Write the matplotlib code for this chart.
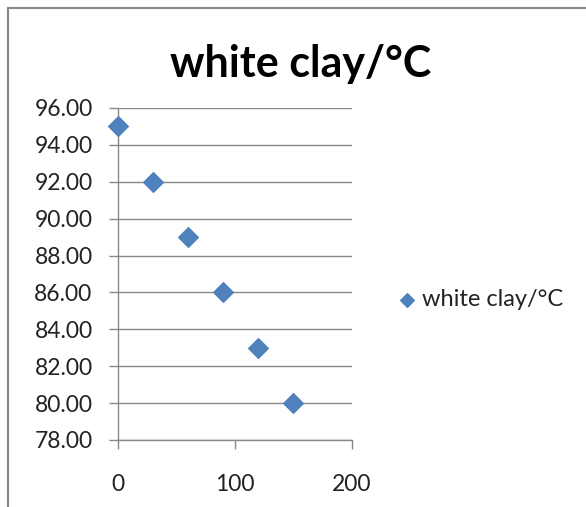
import matplotlib
matplotlib.use("Agg")
import matplotlib.pyplot as plt
from matplotlib.patches import Rectangle

plt.rcParams['font.family'] = ['Lato', 'DejaVu Sans']

# data
time_x = [0, 30, 60, 90, 120, 150]
temp_y = [95, 92, 89, 86, 83, 80]
series_name = "white clay/°C"
y_ticks = [78, 80, 82, 84, 86, 88, 90, 92, 94, 96]
x_ticks = [0, 100, 200]

blue = '#4F81BD'
grey = '#888888'

W, H = 586, 507
fig = plt.figure(figsize=(W / 100, H / 100), dpi=100)
ax = fig.add_axes([117.5 / W, 1 - 440 / H, 234 / W, 332 / H])

ax.scatter(time_x, temp_y, marker='D', s=100, color=blue, zorder=3,
           clip_on=False, label=series_name)

ax.set_xlim(0, 200)
ax.set_ylim(78, 96)
ax.set_xticks(x_ticks)
ax.set_yticks(y_ticks)
ax.set_yticklabels([f"{v:.2f}" for v in y_ticks])
ax.grid(axis='y', color=grey, linewidth=1)
ax.set_axisbelow(True)

for side in ('top', 'right'):
    ax.spines[side].set_visible(False)
for side in ('left', 'bottom'):
    ax.spines[side].set_color(grey)
    ax.spines[side].set_linewidth(1)

ax.tick_params(axis='y', length=6.5, color=grey, width=1, pad=11.5,
               labelsize=16.5, labelcolor='#222222')
ax.tick_params(axis='x', length=6.5, color=grey, width=1, pad=18,
               labelsize=16.5, labelcolor='#222222')

fig.text(301 / W, 1 - 64 / H, series_name, ha='center', va='center',
         fontsize=31, fontweight='bold', color='black')

leg = fig.legend(loc='center left', bbox_to_anchor=(400 / W, 1 - 300 / H),
                 frameon=False, fontsize=17, borderpad=0, borderaxespad=0,
                 handlelength=0.6, handletextpad=0.34, markerscale=0.7)
for t in leg.get_texts():
    t.set_color('#222222')

# chart border
fig.add_artist(Rectangle((8 / W, -0.1), 1.2, 1.1 - 8 / H,
                         transform=fig.transFigure, fill=False,
                         edgecolor=grey, linewidth=1.5))

fig.savefig('out.png', dpi=100, facecolor='white')
